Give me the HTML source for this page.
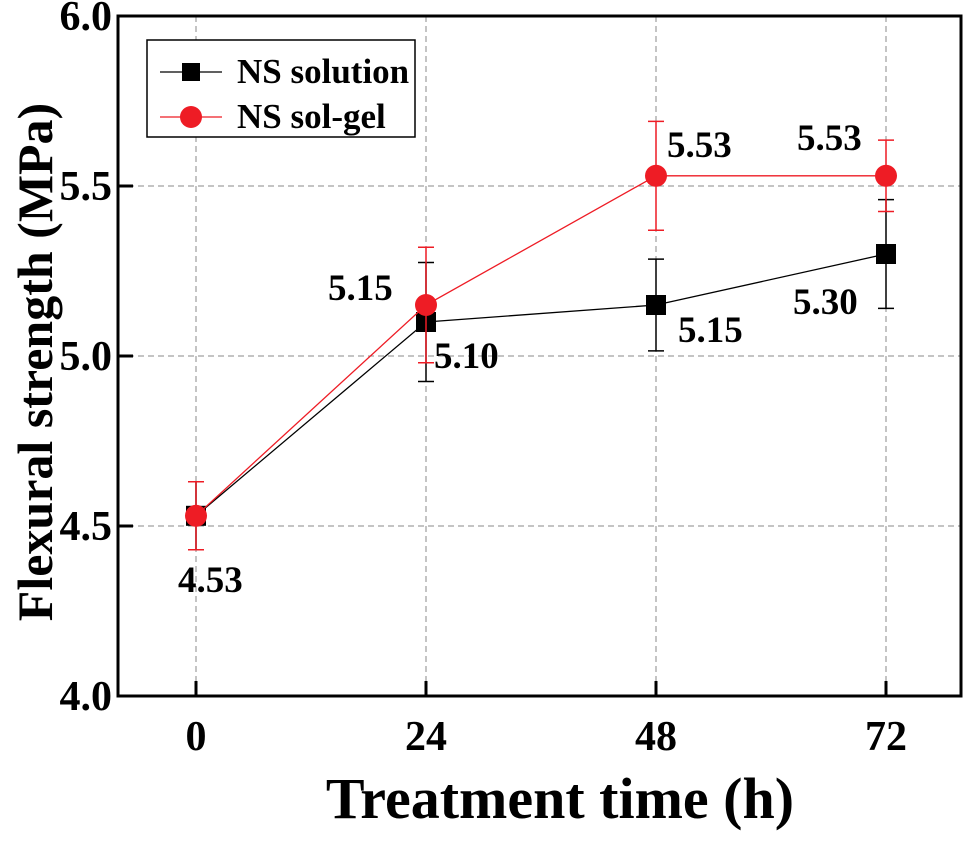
<!DOCTYPE html>
<html><head><meta charset="utf-8"><style>
body{margin:0;background:#fff}
svg text{font-family:"Liberation Serif",serif;font-weight:bold}
</style></head><body>
<svg id="chart" width="964" height="840" xmlns="http://www.w3.org/2000/svg">
<g id="grid"></g><g id="axes"></g><g id="series"></g><g id="labels"></g>
<g>
<rect x="147" y="40" width="268" height="97" fill="#fff" stroke="#000" stroke-width="1.5"/>
<g>
<line x1="160" y1="72" x2="222" y2="72" stroke="#000" stroke-width="1.2"/>
<rect x="182" y="63" width="18" height="18" fill="#000"/>
<text x="237" y="83" font-size="35">NS solution</text></g>
<g>
<line x1="160" y1="117" x2="222" y2="117" stroke="#ee1c25" stroke-width="1.2"/>
<circle cx="191" cy="117" r="11" fill="#ee1c25"/>
<text x="237" y="128" font-size="35">NS sol-gel</text></g>
</g>
<text x="560" y="818" font-size="58" text-anchor="middle">Treatment time (h)</text>
<text transform="translate(52,362) rotate(-90)" font-size="50" text-anchor="middle">Flexural strength (MPa)</text>
</svg>
<script>
const categories=[0,24,48,72];
const solution=[4.53,5.10,5.15,5.30];
const solutionErr=[0.10,0.175,0.135,0.16];
const solgel=[4.53,5.15,5.53,5.53];
const solgelErr=[0.10,0.17,0.16,0.105];
const yTicks=[4.0,4.5,5.0,5.5,6.0];
const solutionLabels=["4.53","5.10","5.15","5.30"];
const solgelLabels=["","5.15","5.53","5.53"];
const L=118,R=961,T=16,B=696;
const xs=v=>196+(v/24)*230;
const ys=v=>B-(v-4)*340;
const NS="http://www.w3.org/2000/svg";
function mk(p,tag,a){const e=document.createElementNS(NS,tag);for(const k in a)e.setAttribute(k,a[k]);p.appendChild(e);return e;}
const g=document.getElementById('grid'),ax=document.getElementById('axes'),s=document.getElementById('series'),lb=document.getElementById('labels');
categories.forEach(c=>{const l=mk(g,'line',{x1:xs(c),x2:xs(c),y1:T,y2:B,stroke:'#888','stroke-dasharray':'6 4','stroke-width':1});


const tk=mk(ax,'line',{x1:xs(c),x2:xs(c),y1:B-15,y2:B,stroke:'#000','stroke-width':3});


const t=mk(ax,'text',{x:xs(c),y:750,'font-size':42,'text-anchor':'middle'});t.textContent=c;

});
yTicks.forEach(v=>{if(v>4&&v<6){const l=mk(g,'line',{x1:L,x2:R,y1:ys(v),y2:ys(v),stroke:'#888','stroke-dasharray':'6 4','stroke-width':1});

}
const tk=mk(ax,'line',{x1:L,x2:L+15,y1:ys(v),y2:ys(v),stroke:'#000','stroke-width':3});


const t=mk(ax,'text',{x:L-6,y:ys(v)+14,'font-size':42,'text-anchor':'end'});t.textContent=v.toFixed(1);

});
const fr=mk(ax,'rect',{x:L,y:T,width:R-L,height:B-T,fill:'none',stroke:'#000','stroke-width':3});


function series(vals,errs,col,sq,name){
 const pl=mk(s,'polyline',{points:vals.map((v,i)=>xs(categories[i])+','+ys(v)).join(' '),fill:'none',stroke:col,'stroke-width':1.3});
 
 
 vals.forEach((v,i)=>{const x=xs(categories[i]);
  const e=mk(s,'path',{d:`M${x},${ys(v+errs[i])}V${ys(v-errs[i])}M${x-8},${ys(v+errs[i])}h16M${x-8},${ys(v-errs[i])}h16`,stroke:col,'stroke-width':1.5,fill:'none'});
  
  
  const m=sq?mk(s,'rect',{x:x-10,y:ys(v)-10,width:20,height:20,fill:col}):mk(s,'circle',{cx:x,cy:ys(v),r:11,fill:col});
  
  });
}
series(solution,solutionErr,'#000',true,'ns-solution');
series(solgel,solgelErr,'#ee1c25',false,'ns-sol-gel');
const solOff=[[-18,76],[8,46],[22,37],[-93,60]];
solution.forEach((v,i)=>{const t=mk(lb,'text',{x:xs(categories[i])+solOff[i][0],y:ys(v)+solOff[i][1],'font-size':37});
 t.textContent=solutionLabels[i];
 
 });
const gelOff=[[0,0],[-98,-5],[11,-19],[-89,-26]];
solgel.forEach((v,i)=>{if(!solgelLabels[i])return;const t=mk(lb,'text',{x:xs(categories[i])+gelOff[i][0],y:ys(v)+gelOff[i][1],'font-size':37});
 t.textContent=solgelLabels[i];
 
 });
</script>
</body></html>
